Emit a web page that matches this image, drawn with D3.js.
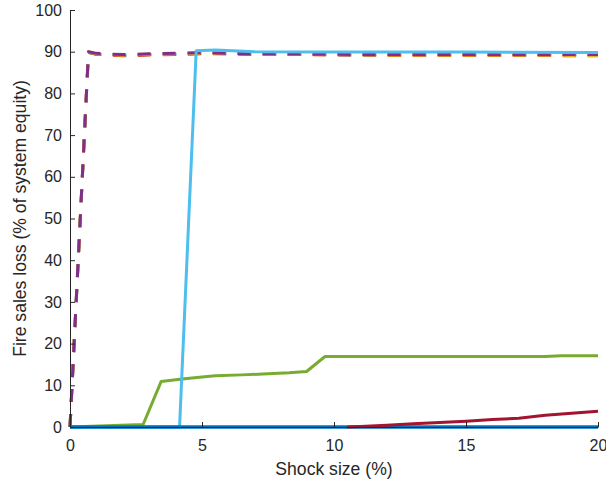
<!DOCTYPE html>
<html><head><meta charset="utf-8">
<script src="https://cdn.jsdelivr.net/npm/d3@7"></script>
<style>body{margin:0;background:#fff}text{font-family:"Liberation Sans",Arial,sans-serif;fill:#262626}</style>
</head><body><svg id="c" width="606" height="483"></svg>
<script>
const xTicks = [0, 5, 10, 15, 20];
const yTicks = [0, 10, 20, 30, 40, 50, 60, 70, 80, 90, 100];
const xLabel = "Shock size (%)";
const yLabel = "Fire sales loss (% of system equity)";

// dashed series (overlapping)
const dashX = [0, 0.7, 1, 2, 3, 4, 5, 6, 7, 8, 9, 10, 11, 12, 13, 14, 15, 16, 17, 18, 19, 20];
const dashBlue   = [0, 89.8, 89.4, 89.1, 89.3, 89.4, 89.6, 89.5, 89.4, 89.4, 89.3, 89.3, 89.2, 89.2, 89.2, 89.2, 89.2, 89.2, 89.2, 89.2, 89.2, 89.2];
const dashOrange = [0, 89.9, 89.4, 89.0, 89.2, 89.3, 89.5, 89.5, 89.4, 89.3, 89.3, 89.2, 89.2, 89.1, 89.1, 89.1, 89.1, 89.1, 89.1, 89.1, 89.0, 89.0];
const dashYellow = [0, 90.0, 89.5, 89.2, 89.4, 89.5, 89.7, 89.6, 89.5, 89.4, 89.4, 89.3, 89.3, 89.2, 89.2, 89.2, 89.2, 89.2, 89.2, 89.2, 89.1, 89.1];
const dashPurple = [0, 90.0, 89.6, 89.3, 89.5, 89.6, 89.8, 89.6, 89.5, 89.5, 89.4, 89.4, 89.3, 89.3, 89.3, 89.3, 89.3, 89.3, 89.3, 89.3, 89.3, 89.3];

// solid series
const greenX = [0, 2.77, 3.45, 4.25, 5.0, 5.5, 6.5, 7.3, 8.3, 8.96, 9.66, 12, 15, 18, 18.6, 20];
const greenY = [0, 0.6, 10.9, 11.5, 12.0, 12.3, 12.5, 12.7, 13.0, 13.3, 16.9, 16.9, 16.9, 16.9, 17.1, 17.1];
const lightX = [0, 4.15, 4.78, 5.5, 7, 10, 15, 20];
const lightY = [0, 0, 90.2, 90.4, 90.0, 89.9, 89.9, 89.8];
const redX = [0, 10.5, 11, 12, 13, 14, 15, 16, 17, 18, 19, 20];
const redY = [0, 0, 0.1, 0.4, 0.8, 1.1, 1.4, 1.8, 2.1, 2.8, 3.3, 3.8];
const blueX = [0, 20];
const blueY = [0, 0];

const svg = d3.select("#c");
const L = 70, R = 598, T = 10, B = 427;
const x = d3.scaleLinear().domain([0, 20]).range([L, R]);
const y = d3.scaleLinear().domain([0, 100]).range([B, T]);
const line = d3.line().x(d => x(d[0])).y(d => y(d[1]));
const zip = (a, b) => a.map((v, i) => [v, b[i]]);

function draw(xs, ys, color, dashed, w) {
  svg.append("path").datum(zip(xs, ys))
    .attr("d", line).attr("fill", "none")
    .attr("stroke", color).attr("stroke-width", w || 3)
    .attr("stroke-linejoin", "round")
    .attr("stroke-dasharray", dashed ? "13,12" : null);
}

draw(dashX, dashBlue, "#0072BD", true);
draw(dashX, dashOrange, "#D95319", true);
draw(dashX, dashYellow, "#EDB120", true);
draw(dashX, dashPurple, "#7E2F8E", true);
draw(greenX, greenY, "#77AC30", false);
draw(lightX, lightY, "#4DBEEE", false);
draw(blueX, blueY, "#0072BD", false, 3.5);
draw(redX.slice(1), redY.slice(1), "#A2142F", false);

// axes
const gx = svg.append("g").attr("transform", `translate(0,${B})`)
  .call(d3.axisBottom(x).tickValues(xTicks).tickSizeInner(-5).tickSizeOuter(0).tickPadding(10));
const gy = svg.append("g").attr("transform", `translate(${L},0)`)
  .call(d3.axisLeft(y).tickValues(yTicks).tickSizeInner(-5).tickSizeOuter(0).tickPadding(8));
[gx, gy].forEach(g => {
  g.select(".domain").attr("stroke", "#262626").attr("stroke-width", 1);
  g.selectAll(".tick line").attr("stroke", "#262626");
  g.selectAll("text").attr("font-size", 16).attr("fill", "#262626")
    .attr("font-family", '"Liberation Sans",Arial,sans-serif');
});
gx.selectAll("text").attr("dy", "0.9em");

svg.append("text").attr("x", (L + R) / 2).attr("y", 475)
  .attr("text-anchor", "middle").attr("font-size", 17.6).text(xLabel);
svg.append("text").attr("transform", `translate(26,${(T + B) / 2}) rotate(-90)`)
  .attr("text-anchor", "middle").attr("font-size", 17.6).text(yLabel);
</script></body></html>
